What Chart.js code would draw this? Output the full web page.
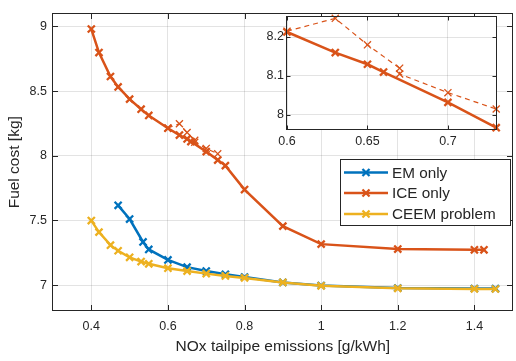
<!DOCTYPE html>
<html>
<head>
<meta charset="utf-8">
<script src="https://cdn.jsdelivr.net/npm/chart.js@4.4.0/dist/chart.umd.min.js"></script>
<style>
  html, body { margin: 0; padding: 0; background: #fff; overflow: hidden; }
  #wrap { position: relative; width: 516px; height: 361px; overflow: hidden; }
  #main { position: absolute; left: 0; top: 0; }
  #inset { position: absolute; left: 250px; top: 0; }
</style>
</head>
<body>
<div id="wrap">
  <canvas id="main" width="520" height="361"></canvas>
  <canvas id="inset" width="266" height="160"></canvas>
</div>
<script>
// values
const emX = [0.47, 0.5, 0.535, 0.55, 0.6, 0.65, 0.7, 0.75, 0.8, 0.9, 1.0, 1.2, 1.4, 1.455];
const emY = [7.617, 7.511, 7.334, 7.276, 7.195, 7.139, 7.109, 7.084, 7.063, 7.021, 6.997, 6.978, 6.974, 6.973];

const iceX = [0.4, 0.42, 0.45, 0.47, 0.5, 0.53, 0.55, 0.6, 0.63, 0.65, 0.66, 0.7, 0.73, 0.75, 0.8, 0.9, 1.0, 1.2, 1.4, 1.425];
const iceY = [8.98, 8.798, 8.613, 8.532, 8.438, 8.36, 8.312, 8.213, 8.16, 8.13, 8.11, 8.032, 7.967, 7.924, 7.739, 7.456, 7.317, 7.279, 7.273, 7.273];

// dashed ICE run (only around 0.6 - 0.73)
const iceAltX = [0.6, 0.63, 0.65, 0.67, 0.67, 0.7, 0.73];
const iceAltY = [8.215, 8.248, 8.18, 8.12, 8.105, 8.057, 8.015];

const ceemX = [0.4, 0.42, 0.45, 0.47, 0.5, 0.53, 0.55, 0.6, 0.65, 0.7, 0.75, 0.8, 0.9, 1.0, 1.2, 1.4, 1.455];
const ceemY = [7.499, 7.41, 7.309, 7.266, 7.215, 7.182, 7.165, 7.131, 7.109, 7.089, 7.071, 7.056, 7.021, 6.995, 6.975, 6.971, 6.97];

const legendLabels = ['EM only', 'ICE only', 'CEEM problem'];

const xTicks = [0.4, 0.6, 0.8, 1, 1.2, 1.4];
const yTicks = [7, 7.5, 8, 8.5, 9];
const insetXTicks = [0.6, 0.65, 0.7];
const insetYTicks = [8, 8.1, 8.2];

const BLUE = '#0072BD', ORANGE = '#D95319', YELLOW = '#EDB120';
const INK = '#262626';
const GRID = 'rgba(0,0,0,0.11)';
const FONT = "'Liberation Sans', Arial, sans-serif";

const pts = (xs, ys) => xs.map((x, i) => ({ x: x, y: ys[i] }));
const inRange = (xs, ys, lo, hi) => pts(xs, ys).filter(p => p.x >= lo && p.x <= hi);

function series(label, data, color, order, dashed) {
  return {
    label: label,
    data: data,
    borderColor: color,
    backgroundColor: color,
    borderWidth: dashed ? 1.2 : 2.5,
    borderDash: dashed ? [5, 4] : [],
    pointStyle: 'crossRot',
    pointRadius: 5,
    pointBorderWidth: dashed ? 1.3 : 2.3,
    pointBorderColor: color,
    tension: 0,
    order: order,
  };
}

// MATLAB style box with inward ticks on all four sides
const boxTicks = {
  id: 'boxTicks',
  afterDatasetsDraw(chart, args, opts) {
    const { ctx, chartArea: a, scales } = chart;
    const L = opts.len || 5;
    const l = Math.round(a.left) - 0.5, r = Math.round(a.right) - 0.5;
    const t = Math.round(a.top) - 0.5, b = Math.round(a.bottom) - 0.5;
    ctx.save();
    ctx.strokeStyle = INK;
    ctx.lineWidth = 1;
    ctx.setLineDash([]);
    ctx.strokeRect(l, t, r - l, b - t);
    ctx.beginPath();
    scales.x.ticks.forEach(tk => {
      const px = Math.round(scales.x.getPixelForValue(tk.value)) + 0.5;
      ctx.moveTo(px, b); ctx.lineTo(px, b - L);
      ctx.moveTo(px, t); ctx.lineTo(px, t + L);
    });
    scales.y.ticks.forEach(tk => {
      const py = Math.round(scales.y.getPixelForValue(tk.value)) + 0.5;
      ctx.moveTo(l, py); ctx.lineTo(l + L, py);
      ctx.moveTo(r, py); ctx.lineTo(r - L, py);
    });
    ctx.stroke();
    ctx.restore();
  }
};

const whiteArea = {
  id: 'whiteArea',
  beforeDraw(chart) {
    const { ctx, chartArea: a } = chart;
    ctx.save();
    ctx.fillStyle = '#fff';
    ctx.fillRect(a.left, a.top, a.right - a.left, a.bottom - a.top);
    ctx.restore();
  }
};

const boxLegend = {
  id: 'boxLegend',
  afterDraw(chart) {
    const ctx = chart.ctx;
    const x0 = 340.5, y0 = 159.5, w = 170, h = 66;
    const colors = [BLUE, ORANGE, YELLOW];
    const rows = [172.5, 193, 214];
    ctx.save();
    ctx.fillStyle = '#fff';
    ctx.fillRect(x0, y0, w, h);
    ctx.strokeStyle = INK;
    ctx.lineWidth = 1;
    ctx.strokeRect(x0, y0, w, h);
    ctx.font = '15.3px ' + FONT;
    ctx.textBaseline = 'middle';
    legendLabels.forEach((lab, i) => {
      const y = rows[i];
      ctx.strokeStyle = colors[i];
      ctx.lineWidth = 2.5;
      ctx.beginPath();
      ctx.moveTo(344, y); ctx.lineTo(388, y);
      ctx.stroke();
      ctx.lineWidth = 2.3;
      Chart.helpers.drawPoint(ctx, { pointStyle: 'crossRot', radius: 5, borderWidth: 2.3, rotation: 0 }, 366, y);
      ctx.fillStyle = INK;
      ctx.fillText(lab, 392, y + 1);
    });
    ctx.restore();
  }
};

function fixedTicks(list) {
  return function (scale) { scale.ticks = list.map(v => ({ value: v })); };
}

const mainChart = new Chart(document.getElementById('main'), {
  type: 'line',
  data: {
    datasets: [
      series(legendLabels[0], pts(emX, emY), BLUE, 3, false),
      series(legendLabels[1], pts(iceX, iceY), ORANGE, 1, false),
      series('ICE alt', pts(iceAltX, iceAltY), ORANGE, 2, true),
      series(legendLabels[2], pts(ceemX, ceemY), YELLOW, 0, false),
    ]
  },
  options: {
    responsive: false,
    animation: false,
    devicePixelRatio: 1,
    layout: { padding: { top: 9, right: 1, left: 0, bottom: 0 } },
    plugins: { legend: { display: false }, tooltip: { enabled: false }, boxTicks: { len: 5.5 } },
    scales: {
      x: {
        type: 'linear', min: 0.3, max: 1.5,
        afterBuildTicks: fixedTicks(xTicks),
        afterFit: s => { s.height = 50; },
        grid: { color: GRID, drawTicks: false },
        border: { display: false },
        ticks: { color: INK, font: { family: FONT, size: 12.5 }, padding: 8, maxRotation: 0, callback: v => String(v) },
        title: { display: true, text: 'NOx tailpipe emissions [g/kWh]', color: INK, font: { family: FONT, size: 15.5 }, padding: { top: 0, bottom: 5 } }
      },
      y: {
        type: 'linear', min: 6.8, max: 9.1,
        afterBuildTicks: fixedTicks(yTicks),
        afterFit: s => { s.width = 53; },
        grid: { color: GRID, drawTicks: false },
        border: { display: false },
        ticks: { color: INK, font: { family: FONT, size: 12.5 }, padding: 6, callback: v => String(v) },
        title: { display: true, text: 'Fuel cost [kg]', color: INK, font: { family: FONT, size: 15.5 }, padding: { top: 5, bottom: 0 } }
      }
    }
  },
  plugins: [boxTicks, boxLegend]
});

const insetChart = new Chart(document.getElementById('inset'), {
  type: 'line',
  data: {
    datasets: [
      series(legendLabels[1], inRange(iceX, iceY, 0.6, 0.73), ORANGE, 0, false),
      series('ICE alt', inRange(iceAltX, iceAltY, 0.6, 0.73), ORANGE, 1, true),
    ]
  },
  options: {
    responsive: false,
    animation: false,
    devicePixelRatio: 1,
    layout: { padding: { top: 17, right: 19, left: 0, bottom: 0 } },
    plugins: { legend: { display: false }, tooltip: { enabled: false }, boxTicks: { len: 4 } },
    scales: {
      x: {
        type: 'linear', min: 0.6, max: 0.7305,
        afterBuildTicks: fixedTicks(insetXTicks),
        afterFit: s => { s.height = 30; },
        grid: { color: GRID, drawTicks: false },
        border: { display: false },
        ticks: { color: INK, font: { family: FONT, size: 12.5 }, padding: 4.5, maxRotation: 0, callback: v => String(v) }
      },
      y: {
        type: 'linear', min: 7.961, max: 8.2515,
        afterBuildTicks: fixedTicks(insetYTicks),
        afterFit: s => { s.width = 37; },
        grid: { color: GRID, drawTicks: false },
        border: { display: false },
        ticks: { color: INK, font: { family: FONT, size: 12.5 }, padding: 3, callback: v => String(v) }
      }
    },
    datasets: { line: { clip: false } }
  },
  plugins: [whiteArea, boxTicks]
});
</script>
</body>
</html>
